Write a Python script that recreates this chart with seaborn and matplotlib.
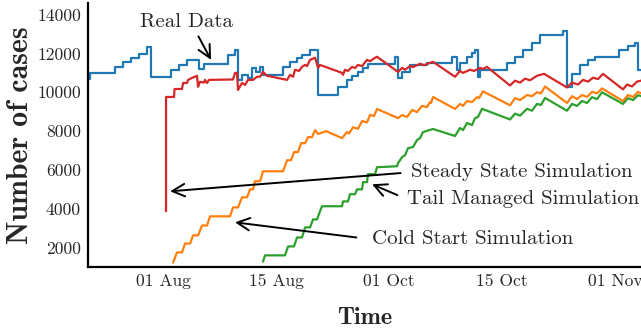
import matplotlib

matplotlib.use("Agg")

import matplotlib.pyplot as plt
import pandas as pd
import seaborn as sns

# x is in days counted from 01 Aug (tick labels as printed on the chart)
tick_days = [0, 14, 28, 42, 56]
tick_labels = ["01 Aug", "15 Aug", "01 Oct", "15 Oct", "01 Nov"]
y_ticks = [2000, 4000, 6000, 8000, 10000, 12000, 14000]

real_days = [-9.29, -9.05, -5.95, -4.96, -3.97, -2.97, -1.98, -1.49, 0.99, 1.98,
             2.97, 4.46, 5.08, 8.05, 8.92, 9.29, 9.79, 10.53, 11.03, 11.52,
             12.02, 12.39, 14.87, 15.74, 16.60, 17.22, 18.22, 19.21, 21.69, 22.80,
             23.42, 24.16, 24.78, 25.40, 28.75, 29.12, 29.62, 30.61, 32.71, 35.81,
             36.43, 36.80, 37.67, 38.29, 38.66, 39.03, 39.28, 42.63, 43.62, 44.61,
             45.72, 46.72, 49.57, 50.06, 50.68, 51.67, 52.66, 53.53, 56.51, 57.62,
             58.49, 58.86, 59.5]
real_cases = [10700, 11000, 11310, 11550, 11750, 11950, 12350, 10800, 11160, 11420,
              11670, 11200, 11470, 11930, 12190, 10640, 10900, 10750, 11260, 11050,
              11310, 10900, 11310, 11570, 11780, 11930, 12190, 9860, 10280, 10640,
              10850, 11050, 11260, 11450, 11830, 10740, 11050, 11410, 11520, 11830,
              11160, 11520, 11800, 12030, 12190, 10800, 11160, 11520, 11830, 12190,
              12550, 12940, 13170, 10250, 10950, 11410, 11650, 11800, 12190, 12400,
              12550, 11160, 11160]

steady_days = [0.37, 0.37, 1.36, 1.43, 2.35, 2.48, 2.97, 3.10, 3.59, 4.21,
               4.34, 4.58, 5.08, 5.20, 5.45, 5.70, 8.67, 8.92, 9.17, 9.29,
               9.79, 10.16, 10.53, 11.15, 11.65, 12.02, 12.39, 12.89, 15.37, 15.74,
               16.11, 16.36, 16.85, 17.22, 17.60, 17.84, 18.22, 18.84, 19.21, 19.45,
               22.18, 22.30, 22.55, 22.92, 23.42, 23.79, 24.16, 24.66, 25.28, 25.65,
               26.27, 26.52, 29.12, 29.62, 29.99, 30.61, 30.98, 31.85, 32.34, 33.46,
               36.18, 36.80, 37.17, 38.04, 38.54, 39.28, 39.65, 40.15, 43.00, 43.62,
               44.24, 44.86, 45.48, 46.34, 47.21, 50.06, 50.68, 51.43, 52.04, 52.66,
               53.28, 53.90, 54.52, 57.00, 57.50, 58.12, 58.74, 59.23]
steady_cases = [3870, 9760, 9760, 10170, 10170, 10480, 10480, 10640, 10740, 10850,
                10280, 10540, 10500, 10640, 10480, 10640, 10660, 11000, 11000, 10120,
                10480, 10380, 10640, 10640, 10800, 10800, 11050, 10850, 10640, 10900,
                10800, 11160, 11100, 11310, 11410, 11350, 11670, 11780, 11260, 11410,
                11000, 10900, 11160, 11100, 11310, 11250, 11410, 11350, 11670, 11600,
                11780, 11830, 11050, 11260, 11160, 11360, 11300, 11470, 11400, 11570,
                10800, 11100, 11000, 11160, 11100, 11260, 11200, 11310, 10350, 10600,
                10500, 10700, 10620, 10850, 10950, 10250, 10500, 10400, 10640, 10550,
                10750, 10680, 10950, 10150, 10400, 10300, 10550, 10600]

cold_days = [1.24, 1.73, 2.35, 2.73, 3.35, 3.72, 4.34, 4.83, 5.45, 5.82,
             8.30, 8.67, 9.29, 9.79, 10.41, 10.78, 11.15, 11.40, 12.02, 12.39,
             14.87, 15.37, 15.86, 16.23, 16.73, 17.10, 17.60, 17.97, 18.46, 18.84,
             19.21, 20.20, 22.18, 22.80, 23.05, 23.54, 24.16, 24.66, 25.28, 25.65,
             26.15, 26.52, 29.12, 29.62, 30.24, 30.86, 31.47, 32.09, 32.71, 33.09,
             33.21, 33.46, 36.18, 36.80, 37.17, 37.67, 38.29, 38.91, 39.16, 39.65,
             43.00, 43.62, 44.24, 45.11, 45.72, 46.34, 46.84, 47.34, 50.06, 50.68,
             51.30, 51.92, 52.54, 53.16, 53.78, 54.40, 57.00, 57.62, 58.24, 58.86,
             59.23]
cold_cases = [1230, 1750, 1750, 2210, 2210, 2630, 2630, 3140, 3140, 3610,
              3610, 4070, 4070, 4590, 4590, 5000, 5000, 5420, 5420, 5930,
              5930, 6500, 6500, 6920, 6920, 7380, 7380, 7690, 7690, 8050,
              7850, 8000, 7640, 7950, 7880, 8200, 8120, 8520, 8450, 8830,
              8780, 9140, 8670, 8830, 8730, 9090, 8980, 9300, 9240, 9500,
              9450, 9760, 9140, 9400, 9300, 9550, 9500, 9750, 9700, 10050,
              9330, 9700, 9600, 9860, 9800, 10000, 9950, 10300, 9450, 9800,
              9650, 9860, 9760, 10020, 9950, 10200, 9550, 9860, 9760, 10020,
              9950]

tail_days = [12.39, 12.64, 15.12, 15.49, 16.23, 16.60, 17.22, 17.60, 18.22, 18.59,
             19.08, 19.45, 19.70, 22.18, 22.30, 22.92, 23.17, 23.79, 24.04, 24.66,
             24.78, 25.28, 25.40, 26.27, 26.52, 29.00, 29.12, 29.62, 29.99, 30.36,
             30.98, 31.47, 31.85, 32.22, 33.46, 36.18, 36.80, 37.17, 37.67, 38.29,
             38.66, 39.03, 39.53, 43.00, 43.62, 44.24, 45.11, 45.72, 46.34, 46.84,
             47.34, 50.06, 50.68, 51.30, 51.92, 52.54, 53.16, 53.78, 54.40, 57.00,
             57.62, 58.24, 58.86, 59.23]
tail_cases = [1280, 1600, 1600, 2060, 2060, 2520, 2520, 3040, 3040, 3450,
              3450, 3870, 4130, 4130, 4380, 4380, 4750, 4750, 5000, 5000,
              5370, 5370, 5780, 5780, 6140, 6190, 6350, 6660, 6760, 7120,
              7180, 7540, 7640, 7950, 8110, 7750, 8160, 8050, 8420, 8310,
              8670, 8730, 9150, 8600, 8900, 8800, 9150, 9050, 9400, 9350,
              9710, 9050, 9400, 9300, 9550, 9450, 9750, 9650, 10000, 9400,
              9700, 9600, 9850, 9800]

sns.set_style("ticks")
plt.rcParams["font.family"] = ["cmr10", "DejaVu Serif"]
plt.rcParams["axes.formatter.use_mathtext"] = True

fig = plt.figure(figsize=(6.41, 3.28), dpi=100)
ax = fig.add_axes([88 / 641, 61 / 328, 553 / 641, 264 / 328])

series = [
    (real_days, real_cases, "#1f77b4", "steps-post"),
    (tail_days, tail_cases, "#2ca02c", "default"),
    (cold_days, cold_cases, "#ff7f0e", "default"),
    (steady_days, steady_cases, "#d62728", "default"),
]
for days, cases, color, style in series:
    df = pd.DataFrame({"day": days, "cases": cases})
    sns.lineplot(data=df, x="day", y="cases", estimator=None, sort=False,
                 color=color, linewidth=1.6, drawstyle=style, ax=ax)

ax.set_xlim(-9.3, 59.23)
ax.set_ylim(1000, 14600)
ax.set_xticks(tick_days)
ax.set_xticklabels(tick_labels)
ax.set_yticks(y_ticks)
ax.set_yticklabels([str(v) for v in y_ticks])
ax.tick_params(length=0, labelsize=12.6, pad=5)

for side in ["top", "right"]:
    ax.spines[side].set_visible(False)
for side in ["left", "bottom"]:
    ax.spines[side].set_linewidth(1.6)
    ax.spines[side].set_color("black")

ax.set_xlabel("Time", fontfamily="cmb10", fontsize=17.5)
ax.set_ylabel("Number of cases", fontfamily="cmb10", fontsize=21.5)
ax.xaxis.set_label_coords(0.5, -0.15)
ax.yaxis.set_label_coords(-0.098, 0.5)

arrow = dict(arrowstyle="->, head_length=0.6, head_width=0.3", color="black",
             lw=1.4, shrinkB=0)
ax.annotate("Real Data", xy=(5.95, 11670), xytext=(2.85, 13640),
            ha="center", va="center", fontsize=15,
            arrowprops=dict(arrow, relpos=(0.6, 0.0), shrinkA=2))
ax.annotate("Steady State Simulation", xy=(0.87, 4900), xytext=(30.7, 5880),
            ha="left", va="center", fontsize=15,
            arrowprops=dict(arrow, relpos=(0.0, 0.5), shrinkA=5))
ax.annotate("Tail Managed Simulation", xy=(25.9, 5260), xytext=(30.24, 4490),
            ha="left", va="center", fontsize=15,
            arrowprops=dict(arrow, relpos=(0.0, 0.5), shrinkA=5))
ax.annotate("Cold Start Simulation", xy=(8.92, 3300), xytext=(25.9, 2420),
            ha="left", va="center", fontsize=15,
            arrowprops=dict(arrow, relpos=(0.0, 0.5), shrinkA=9))

fig.savefig("out.png", dpi=100)
